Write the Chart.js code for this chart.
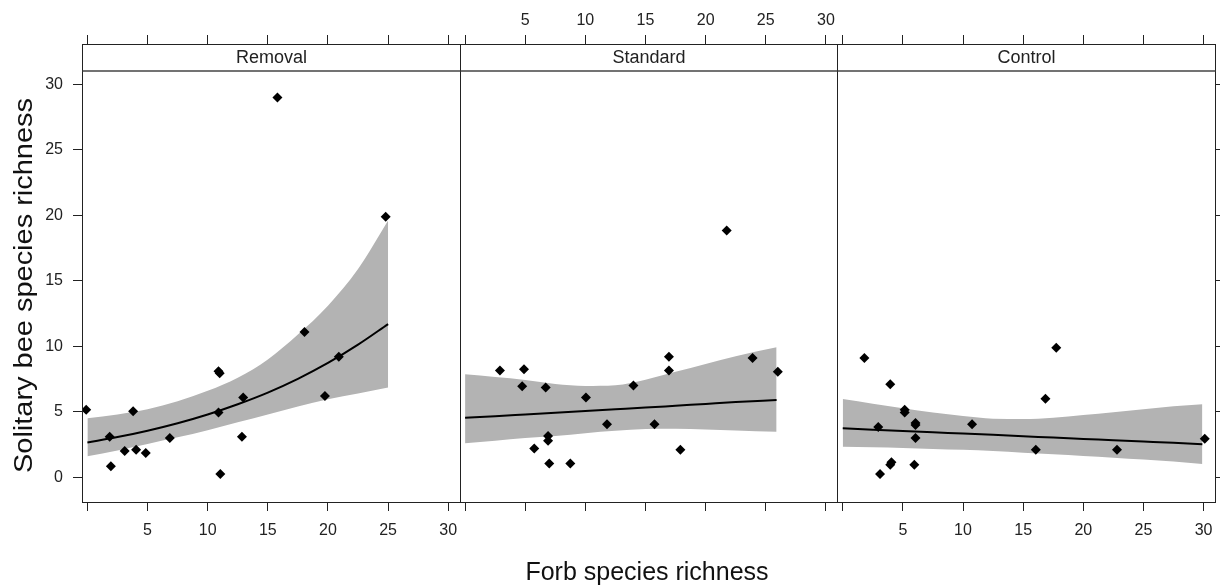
<!DOCTYPE html>
<html>
<head>
<meta charset="utf-8">
<script src="https://cdn.jsdelivr.net/npm/chart.js@4.4.0/dist/chart.umd.min.js"></script>
<style>
html, body { margin: 0; padding: 0; background: #fff; }
canvas { display: block; }
</style>
</head>
<body>
<canvas id="myChart" width="1220" height="586"></canvas>
<script>
// panels (strip labels)
var panels = ['Removal', 'Standard', 'Control'];

// axis ticks
var xTicks = [0, 5, 10, 15, 20, 25, 30];
var xTickLabels = ['', '5', '10', '15', '20', '25', '30'];
var yTicks = [0, 5, 10, 15, 20, 25, 30];
var yTickLabels = ['0', '5', '10', '15', '20', '25', '30'];

// observed points
var removalX = [-0.1, 1.85, 1.95, 3.1, 3.8, 4.05, 4.85, 6.85, 10.9, 11.0, 10.9, 11.05, 12.85, 12.95, 15.8, 18.05, 19.75, 20.9, 24.8];
var removalY = [5.15, 3.1, 0.85, 2.0, 5.05, 2.1, 1.85, 3.0, 8.1, 7.95, 4.95, 0.25, 3.1, 6.1, 29.0, 11.1, 6.2, 9.2, 19.9];

var standardX = [2.9, 4.9, 4.75, 6.7, 5.75, 6.9, 6.9, 7.0, 8.75, 10.05, 11.8, 14.0, 15.75, 16.95, 16.95, 17.9, 21.75, 23.9, 26.0];
var standardY = [8.15, 8.25, 6.95, 6.85, 2.2, 3.15, 2.8, 1.05, 1.05, 6.1, 4.05, 7.0, 4.05, 9.2, 8.15, 2.1, 18.85, 9.1, 8.05];

var controlX = [1.8, 3.95, 2.95, 5.15, 5.15, 6.05, 6.05, 6.05, 3.1, 3.95, 4.05, 5.95, 10.75, 16.05, 16.85, 17.75, 22.8, 30.1];
var controlY = [9.1, 7.1, 3.85, 5.15, 4.95, 4.15, 4.0, 3.0, 0.25, 0.95, 1.15, 0.95, 4.05, 2.1, 6.0, 9.9, 2.1, 2.95];

// fitted curves and confidence bands
var removalFitX = [0, 2.5, 5, 7.5, 10, 12.5, 15, 17.5, 20, 22.5, 25];
var removalFit = [2.65, 3.07, 3.56, 4.13, 4.8, 5.58, 6.47, 7.52, 8.73, 10.13, 11.7];
var removalUpper = [4.5, 4.8, 5.2, 5.8, 6.6, 7.6, 9.0, 10.9, 13.1, 15.9, 19.6];
var removalLower = [1.6, 2.05, 2.55, 3.05, 3.6, 4.2, 4.8, 5.4, 5.95, 6.4, 6.85];

var standardFitX = [0, 2.5, 5, 7.5, 10, 12.5, 15, 17.5, 20, 22.5, 25.9];
var standardFit = [4.55, 4.67, 4.8, 4.93, 5.06, 5.19, 5.32, 5.46, 5.6, 5.74, 5.9];
var standardUpper = [7.86, 7.65, 7.43, 7.13, 6.98, 7.03, 7.45, 8.05, 8.65, 9.25, 9.92];
var standardLower = [2.6, 2.8, 3.0, 3.15, 3.37, 3.55, 3.68, 3.7, 3.65, 3.58, 3.48];

var controlFitX = [0, 2.5, 5, 7.5, 10, 12.5, 15, 17.5, 20, 22.5, 25, 27.5, 29.9];
var controlFit = [3.74, 3.64, 3.54, 3.44, 3.34, 3.24, 3.14, 3.03, 2.93, 2.83, 2.73, 2.63, 2.52];
var controlUpper = [5.98, 5.62, 5.27, 4.95, 4.68, 4.48, 4.45, 4.55, 4.75, 4.97, 5.2, 5.42, 5.57];
var controlLower = [2.34, 2.3, 2.24, 2.17, 2.1, 2.0, 1.88, 1.76, 1.63, 1.5, 1.36, 1.2, 1.02];

var pointsX = [removalX, standardX, controlX];
var pointsY = [removalY, standardY, controlY];
var fitX = [removalFitX, standardFitX, controlFitX];
var fitY = [removalFit, standardFit, controlFit];
var upperY = [removalUpper, standardUpper, controlUpper];
var lowerY = [removalLower, standardLower, controlLower];

function toXY(xs, ys) {
    return xs.map(function (x, i) { return {x: x, y: ys[i]}; });
}

var tickFont = {family: '"Liberation Sans", Arial, sans-serif', size: 16};
var tickColor = '#222';
var bandColor = '#b3b3b3';

var datasets = [];
for (var p = 0; p < 3; p++) {
    var xid = 'x' + (p + 1);
    datasets.push({
        data: toXY(fitX[p], upperY[p]), xAxisID: xid, yAxisID: 'y',
        borderWidth: 0, pointRadius: 0, fill: '+1', backgroundColor: bandColor,
        cubicInterpolationMode: 'monotone', order: 3
    });
    datasets.push({
        data: toXY(fitX[p], lowerY[p]), xAxisID: xid, yAxisID: 'y',
        borderWidth: 0, pointRadius: 0, fill: false,
        cubicInterpolationMode: 'monotone', order: 3
    });
    datasets.push({
        data: toXY(fitX[p], fitY[p]), xAxisID: xid, yAxisID: 'y',
        borderColor: '#000', borderWidth: 2, pointRadius: 0, fill: false,
        cubicInterpolationMode: 'monotone', order: 2
    });
    datasets.push({
        data: toXY(pointsX[p], pointsY[p]), xAxisID: xid, yAxisID: 'y',
        showLine: false, pointStyle: 'rectRot', pointRadius: 5,
        pointBackgroundColor: '#000', pointBorderWidth: 0, order: 1
    });
}

function setXTicks(scale) {
    scale.ticks = xTicks.map(function (v) { return {value: v}; });
}
function setYTicks(scale) {
    scale.ticks = yTicks.map(function (v) { return {value: v}; });
}

var scales = {};
function xAxis(position, withLabels, height, padding) {
    return {
        type: 'linear', position: position, stack: position, stackWeight: 1,
        min: -0.45, max: 30.95,
        afterBuildTicks: setXTicks,
        afterFit: function (s) {
            s.height = height;
            s.paddingLeft = 0;
            s.paddingRight = 0;
        },
        border: {display: false},
        grid: {drawOnChartArea: false, drawTicks: true, tickLength: 9, color: '#222', lineWidth: 1},
        ticks: {
            autoSkip: false, maxRotation: 0, padding: padding, font: tickFont, color: tickColor,
            callback: function (v, i) { return withLabels ? xTickLabels[i] : ''; }
        }
    };
}
for (var b = 0; b < 3; b++) {
    scales['x' + (b + 1)] = xAxis('bottom', b !== 1, 84, 10);
}
// top axes are laid out in reverse order
for (var t = 2; t >= 0; t--) {
    scales['xt' + (t + 1)] = xAxis('top', t === 1, 44, 5);
}
function yAxis(position, width, withLabels) {
    return {
        type: 'linear', position: position, min: -1.885, max: 33.08,
        afterBuildTicks: setYTicks,
        afterFit: function (s) {
            s.width = width;
            s.paddingTop = 0;
            s.paddingBottom = 0;
        },
        border: {display: false},
        grid: {drawOnChartArea: false, drawTicks: true, tickLength: 9, color: '#222', lineWidth: 1},
        ticks: {padding: 10, font: tickFont, color: tickColor,
            callback: function (v, i) { return withLabels ? yTickLabels[i] : ''; }}
    };
}
scales.y = yAxis('left', 82, true);
scales.y2 = yAxis('right', 3, false);

// lattice panel frames, strips and axis titles
var latticeFrame = {
    id: 'latticeFrame',
    afterDraw: function (chart) {
        var ctx = chart.ctx;
        var area = chart.chartArea;
        var stripH = 27;
        ctx.save();
        for (var i = 0; i < 3; i++) {
            var sc = chart.scales['x' + (i + 1)];
            var l = Math.round(sc.left) + 0.5;
            var r = Math.round(sc.right) + 0.5;
            ctx.fillStyle = '#fff';
            ctx.fillRect(l, area.top, r - l, stripH);
            ctx.strokeStyle = '#222';
            ctx.lineWidth = 1;
            ctx.strokeRect(l, area.top + 0.5, r - l, area.bottom - area.top);
            ctx.strokeStyle = '#444';
            ctx.lineWidth = 1.7;
            ctx.beginPath();
            ctx.moveTo(l, area.top + stripH);
            ctx.lineTo(r, area.top + stripH);
            ctx.stroke();
            ctx.fillStyle = '#222';
            ctx.font = '18px "Liberation Sans", Arial, sans-serif';
            ctx.textAlign = 'center';
            ctx.textBaseline = 'middle';
            ctx.fillText(panels[i], (l + r) / 2, area.top + stripH / 2 + 1);
        }
        ctx.fillStyle = '#111';
        ctx.font = '25px "Liberation Sans", Arial, sans-serif';
        ctx.textAlign = 'center';
        ctx.textBaseline = 'alphabetic';
        ctx.fillText('Forb species richness', 647, 580);

        var label = 'Solitary bee species richness';
        var w = ctx.measureText(label).width;
        ctx.translate(31.5, 285.5);
        ctx.rotate(-Math.PI / 2);
        ctx.scale(375 / w, 1);
        ctx.fillText(label, 0, 0);
        ctx.restore();
    }
};

var ctx = document.getElementById('myChart').getContext('2d');
var myChart = new Chart(ctx, {
    type: 'line',
    data: {datasets: datasets},
    options: {
        responsive: false,
        animation: false,
        events: [],
        layout: {padding: 0},
        plugins: {
            legend: {display: false},
            tooltip: {enabled: false},
            title: {display: false}
        },
        scales: scales
    },
    plugins: [latticeFrame]
});
</script>
</body>
</html>
